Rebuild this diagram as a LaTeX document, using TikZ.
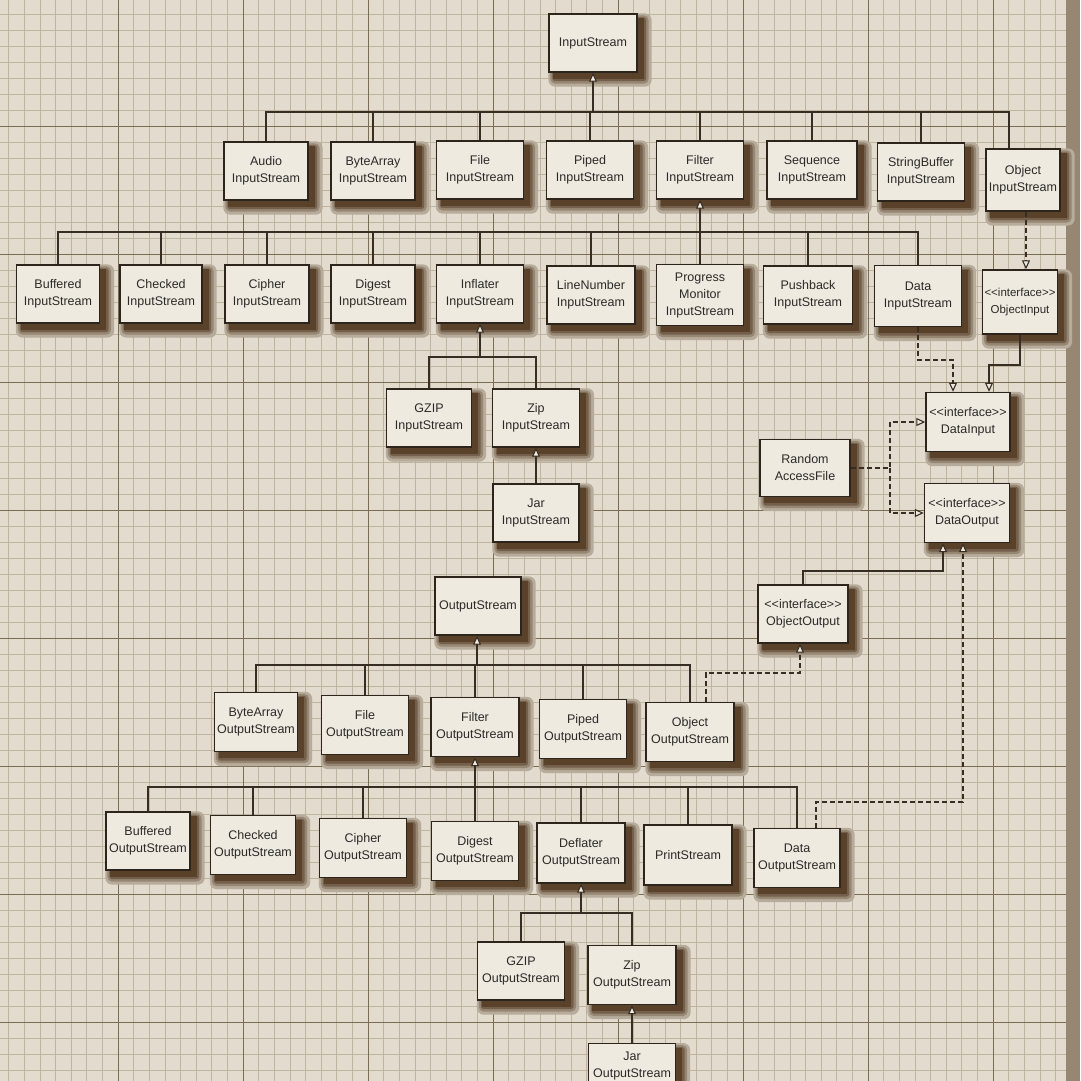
\documentclass[tikz,border=0pt]{standalone}
\usepackage{fontspec}
\setmainfont{Liberation Sans}
\usetikzlibrary{arrows.meta,calc}
\definecolor{paper}{RGB}{226,219,206}
\definecolor{minorln}{RGB}{190,180,160}
\definecolor{majorln}{RGB}{122,110,82}
\definecolor{boxfill}{RGB}{238,234,224}
\definecolor{boxline}{RGB}{45,36,28}
\definecolor{txt}{RGB}{45,42,38}
\definecolor{lineclr}{RGB}{55,45,34}
\definecolor{shadowclr}{RGB}{68,44,22}
\definecolor{shA}{RGB}{183,172,155}
\definecolor{shB}{RGB}{150,135,115}
\definecolor{shC}{RGB}{115,95,75}
\definecolor{shD}{RGB}{90,66,42}
\pgfdeclarelayer{paperlayer}
\pgfdeclarelayer{shadowlayer}
\pgfsetlayers{paperlayer,shadowlayer,main}
\begin{document}
\begin{tikzpicture}[x=1pt,y=-1pt,
  cls/.style={draw=boxline, line width=1.4pt, fill=boxfill, text=txt, align=center,
    minimum width=86pt, minimum height=58pt, inner sep=2pt,
    font=\fontsize{12.5}{17}\selectfont},
  conn/.style={draw=lineclr, line width=1.4pt},
  dashc/.style={conn, dash pattern=on 5pt off 3pt},
  tri/.tip={Triangle[length=9pt,width=8pt,fill=boxfill,line width=1.1pt]}
]
\useasboundingbox (0,0) rectangle (1080,1081);
\clip (0,0) rectangle (1080,1081);
% paper and grid
\begin{pgfonlayer}{paperlayer}
\fill[paper] (0,0) rectangle (1080,1081);
\foreach \i in {0,...,70} {\draw[minorln, line width=0.6pt] ({-7+\i*15.625},0) -- ({-7+\i*15.625},1081);}
\foreach \i in {0,...,68} {\draw[minorln, line width=0.6pt] (0,{-2+\i*16}) -- (1080,{-2+\i*16});}
\foreach \i in {0,...,9} {\draw[majorln, line width=1pt] ({-7+\i*125},0) -- ({-7+\i*125},1081);}
\foreach \i in {0,...,9} {\draw[majorln, line width=1pt] (0,{-2+\i*128}) -- (1080,{-2+\i*128});}
\fill[shB] (1066,0) rectangle (1080,1081);
\end{pgfonlayer}

% ---- input side ----
\node[cls, minimum width=88pt] (is) at (593,43) {InputStream};
\node[cls, minimum width=84pt] (audio) at (266,171) {Audio\\InputStream};
\node[cls, minimum width=84pt] (bytearrayis) at (373,171) {ByteArray\\InputStream};
\node[cls, minimum width=87pt] (fileis) at (480,170) {File\\InputStream};
\node[cls, minimum width=87pt] (pipedis) at (590,170) {Piped\\InputStream};
\node[cls, minimum width=87pt] (filteris) at (700,170) {Filter\\InputStream};
\node[cls, minimum width=90pt] (sequence) at (812,170) {Sequence\\InputStream};
\node[cls, minimum width=87pt] (stringbuffer) at (921,172) {StringBuffer\\InputStream};
\node[cls, minimum width=74pt, minimum height=62pt] (objis) at (1023,180) {Object\\InputStream};

\node[cls, minimum width=83pt] (bufferedis) at (58,294) {Buffered\\InputStream};
\node[cls, minimum width=82pt] (checkedis) at (161,294) {Checked\\InputStream};
\node[cls, minimum width=84pt] (cipheris) at (267,294) {Cipher\\InputStream};
\node[cls, minimum width=84pt] (digestis) at (373,294) {Digest\\InputStream};
\node[cls, minimum width=87pt] (inflateris) at (480,294) {Inflater\\InputStream};
\node[cls, minimum width=88pt] (linenumber) at (591,295) {LineNumber\\InputStream};
\node[cls, minimum width=87pt, minimum height=61pt] (progress) at (700,295) {Progress\\Monitor\\InputStream};
\node[cls, minimum width=89pt] (pushback) at (808,295) {Pushback\\InputStream};
\node[cls, minimum width=87pt, minimum height=61pt] (datais) at (918,296) {Data\\InputStream};
\node[cls, minimum width=73pt, minimum height=64pt, font=\fontsize{11.5}{17}\selectfont] (objectinput) at (1020,302) {<{}<interface>{}>\\ObjectInput};

\node[cls, minimum width=85pt] (gzipis) at (429,418) {GZIP\\InputStream};
\node[cls, minimum width=87pt] (zipis) at (536,418) {Zip\\InputStream};
\node[cls, minimum width=86pt] (jaris) at (536,513) {Jar\\InputStream};

\node[cls, minimum width=90pt, minimum height=57pt] (raf) at (805,468) {Random\\AccessFile};
\node[cls, minimum width=84pt, minimum height=59pt] (datainput) at (968,422) {<{}<interface>{}>\\DataInput};
\node[cls, minimum width=85pt, minimum height=59pt] (dataoutput) at (967,513) {<{}<interface>{}>\\DataOutput};
\node[cls, minimum width=90pt] (objectoutput) at (803,614) {<{}<interface>{}>\\ObjectOutput};

% ---- output side ----
\node[cls, minimum width=86pt, minimum height=58pt] (os) at (478,606) {OutputStream};
\node[cls, minimum width=83pt, minimum height=59pt] (bytearrayos) at (256,722) {ByteArray\\OutputStream};
\node[cls, minimum width=87pt, minimum height=59pt] (fileos) at (365,725) {File\\OutputStream};
\node[cls, minimum width=88pt, minimum height=59pt] (filteros) at (475,727) {Filter\\OutputStream};
\node[cls, minimum width=87pt, minimum height=59pt] (pipedos) at (583,729) {Piped\\OutputStream};
\node[cls, minimum width=88pt, minimum height=59pt] (objectos) at (690,732) {Object\\OutputStream};

\node[cls, minimum width=84pt] (bufferedos) at (148,841) {Buffered\\OutputStream};
\node[cls, minimum width=85pt, minimum height=59pt] (checkedos) at (253,845) {Checked\\OutputStream};
\node[cls, minimum width=87pt, minimum height=59pt] (cipheros) at (363,848) {Cipher\\OutputStream};
\node[cls, minimum width=87pt, minimum height=59pt] (digestos) at (475,851) {Digest\\OutputStream};
\node[cls, minimum width=88pt, minimum height=60pt] (deflateros) at (581,853) {Deflater\\OutputStream};
\node[cls, minimum width=88pt, minimum height=60pt] (printstream) at (688,855) {PrintStream};
\node[cls, minimum width=86pt, minimum height=59pt] (dataos) at (797,858) {Data\\OutputStream};

\node[cls, minimum width=87pt] (gzipos) at (521,971) {GZIP\\OutputStream};
\node[cls, minimum width=88pt, minimum height=59pt] (zipos) at (632,975) {Zip\\OutputStream};
\node[cls, minimum width=87pt, minimum height=44pt, anchor=north] (jaros) at (632,1043) {Jar\\OutputStream};

% ---- shadows (soft, to the lower right) ----
\begin{pgfonlayer}{shadowlayer}
\foreach \n in {is,audio,bytearrayis,fileis,pipedis,filteris,sequence,stringbuffer,objis,
  bufferedis,checkedis,cipheris,digestis,inflateris,linenumber,progress,pushback,datais,objectinput,
  gzipis,zipis,jaris,raf,datainput,dataoutput,objectoutput,
  os,bytearrayos,fileos,filteros,pipedos,objectos,
  bufferedos,checkedos,cipheros,digestos,deflateros,printstream,dataos,gzipos,zipos,jaros}
{
  \fill[shA, rounded corners=7pt] ($(\n.north west)+(0,0)$) rectangle ($(\n.south east)+(14,14)$);
  \fill[shB, rounded corners=5pt] ($(\n.north west)+(2,2)$) rectangle ($(\n.south east)+(11,11)$);
  \fill[shC, rounded corners=3pt] ($(\n.north west)+(4,4)$) rectangle ($(\n.south east)+(8.5,8.5)$);
  \fill[shD] ($(\n.north west)+(5,5)$) rectangle ($(\n.south east)+(6,6)$);
}
\end{pgfonlayer}

% ---- junction coordinates ----
\coordinate (isj) at (593,112);
\coordinate (fij) at (700,232);
\coordinate (infj) at (480,357);
\coordinate (osj) at (477,665);
\coordinate (foj) at (475,787);
\coordinate (defj) at (581,913);
\coordinate (d1) at (953,360);
\coordinate (d2) at (989,365);
\coordinate (rj) at (890,468);
\coordinate (o1) at (943,571);
\coordinate (o2) at (800,673);
\coordinate (o3) at (963,802);

% ---- inheritance trees ----
\draw[conn, {tri}-] (is.south) -- (isj);
\foreach \c in {audio,bytearrayis,fileis,pipedis,filteris,sequence,stringbuffer}
  {\draw[conn] (\c.north) |- (isj);}
\draw[conn] ($(objis.north)+(-14,0)$) |- (isj);

\draw[conn, {tri}-] (filteris.south) -- (progress.north);
\foreach \c in {bufferedis,checkedis,cipheris,digestis,inflateris,linenumber,pushback,datais}
  {\draw[conn] (\c.north) |- (fij);}

\draw[conn, {tri}-] (inflateris.south) -- (infj);
\foreach \c in {gzipis,zipis} {\draw[conn] (\c.north) |- (infj);}
\draw[conn, {tri}-] (zipis.south) -- (jaris.north);

\draw[conn, {tri}-] ($(os.south)+(-1,0)$) -- (osj);
\foreach \c in {bytearrayos,fileos,filteros,pipedos,objectos} {\draw[conn] (\c.north) |- (osj);}

\draw[conn, {tri}-] (filteros.south) -- (digestos.north);
\foreach \c in {bufferedos,checkedos,cipheros,deflateros,printstream,dataos} {\draw[conn] (\c.north) |- (foj);}

\draw[conn, {tri}-] (deflateros.south) -- (defj);
\foreach \c in {gzipos,zipos} {\draw[conn] (\c.north) |- (defj);}
\draw[conn, {tri}-] (zipos.south) -- (jaros.north);

% ---- interface relations ----
\draw[dashc, -{tri}] ($(objis.south)+(3,0)$) -- ($(objectinput.north)+(6,0)$);
\draw[dashc, -{tri}] (datais.south) |- (d1) -- (d1 |- datainput.north);
\draw[conn, -{tri}] (objectinput.south) |- (d2) -- (d2 |- datainput.north);
\draw[dashc, -{tri}] (raf.east) -- (rj) |- (datainput.west);
\draw[dashc, -{tri}] (rj) |- (dataoutput.west);
\draw[conn, -{tri}] (objectoutput.north) |- (o1) -- (o1 |- dataoutput.south);
\draw[dashc, -{tri}] ($(objectos.north)+(16,0)$) |- (o2) -- (o2 |- objectoutput.south);
\draw[dashc, -{tri}] ($(dataos.north)+(19,0)$) |- (o3) -- (o3 |- dataoutput.south);
\end{tikzpicture}
\end{document}
